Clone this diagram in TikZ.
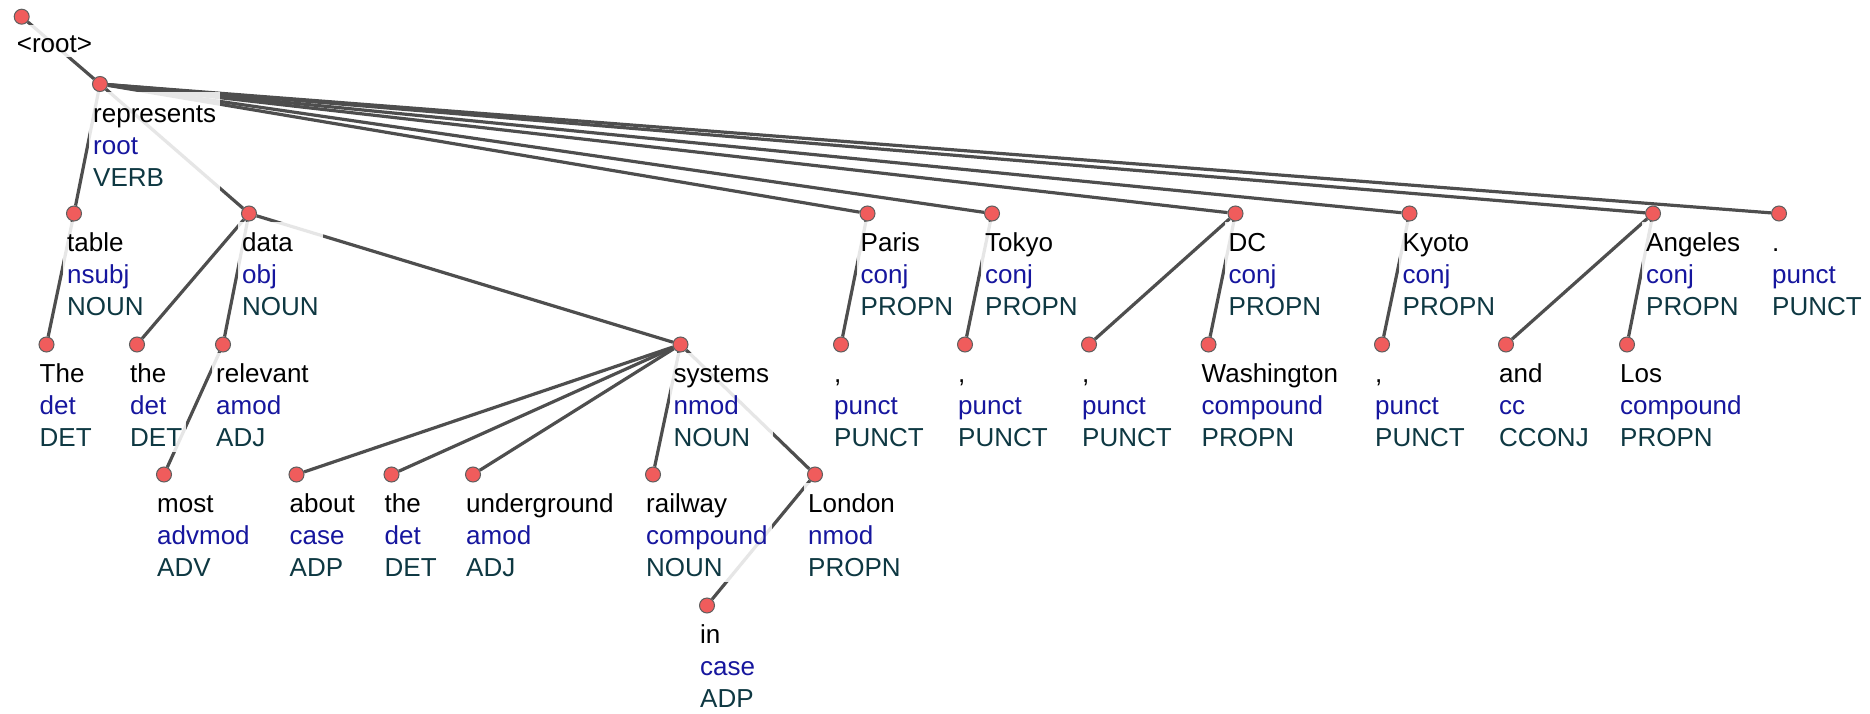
\documentclass[tikz,border=0pt]{standalone}
\usepackage{fontspec}
\setmainfont{Liberation Sans}
\definecolor{relblue}{RGB}{22,22,158}
\definecolor{posteal}{RGB}{14,56,66}
\definecolor{edgegray}{RGB}{78,78,78}
\definecolor{dotred}{RGB}{240,92,92}
\definecolor{dotrim}{RGB}{95,95,95}
\pgfdeclarelayer{edges}
\pgfsetlayers{edges,main}
\tikzset{
  lbl/.style={anchor=north west, align=left, inner xsep=4pt, inner ysep=0pt,
    fill=white, fill opacity=0.86, text opacity=1,
    font=\fontsize{26}{32}\selectfont},
  tokdot/.style={circle, minimum size=15pt, inner sep=0pt, fill=dotred,
    draw=dotrim, line width=1pt},
  dep/.style={draw=edgegray, line width=3.2pt}
}
% token: name, x, y, word, relation, part of speech
\newcommand\tok[6]{%
  \node[lbl] (#1-lbl) at (#2-11,#3+8)
    {\rule{0pt}{30pt}#4\\\textcolor{relblue}{#5}\\\textcolor{posteal}{#6}\rule[-5pt]{0pt}{5pt}};
  \node[tokdot] (#1) at (#2,#3) {};
}
\begin{document}
\begin{tikzpicture}[x=1pt,y=-1pt]
\useasboundingbox (0,0) rectangle (1870,714);

% artificial root
\node[lbl] (root-lbl) at (21.7-9,16.7+8) {\rule{0pt}{28pt}\textless root\textgreater\rule[-4pt]{0pt}{4pt}};
\node[tokdot] (root) at (21.7,16.7) {};

% tokens
\tok{represents}{100}{84}{represents}{root}{VERB}
\tok{table}{74}{213.5}{table}{nsubj}{NOUN}
\tok{data}{249}{213.5}{data}{obj}{NOUN}
\tok{paris}{867.5}{213.5}{Paris}{conj}{PROPN}
\tok{tokyo}{992}{213.5}{Tokyo}{conj}{PROPN}
\tok{dc}{1235.5}{213.5}{DC}{conj}{PROPN}
\tok{kyoto}{1409.5}{213.5}{Kyoto}{conj}{PROPN}
\tok{angeles}{1653}{213.5}{Angeles}{conj}{PROPN}
\tok{stop}{1779}{213.5}{.}{punct}{PUNCT}
\tok{the1}{46.5}{344.5}{The}{det}{DET}
\tok{the2}{137}{344.5}{the}{det}{DET}
\tok{relevant}{223}{344.5}{relevant}{amod}{ADJ}
\tok{systems}{680.5}{344.5}{systems}{nmod}{NOUN}
\tok{commaA}{841}{344.5}{,}{punct}{PUNCT}
\tok{commaB}{965}{344.5}{,}{punct}{PUNCT}
\tok{commaC}{1089}{344.5}{,}{punct}{PUNCT}
\tok{washington}{1208.5}{344.5}{Washington}{compound}{PROPN}
\tok{commaD}{1382}{344.5}{,}{punct}{PUNCT}
\tok{and}{1506}{344.5}{and}{cc}{CCONJ}
\tok{los}{1627}{344.5}{Los}{compound}{PROPN}
\tok{most}{164}{474.5}{most}{advmod}{ADV}
\tok{about}{296.5}{474.5}{about}{case}{ADP}
\tok{the3}{391.5}{474.5}{the}{det}{DET}
\tok{underground}{473}{474.5}{underground}{amod}{ADJ}
\tok{railway}{653}{474.5}{railway}{compound}{NOUN}
\tok{london}{815}{474.5}{London}{nmod}{PROPN}
\tok{in}{707}{605.5}{in}{case}{ADP}

% dependency arcs, under the labels
\begin{pgfonlayer}{edges}
\draw[dep] (root) -- (represents);
\foreach \d in {table,data,paris,tokyo,dc,kyoto,angeles,stop}
  \draw[dep] (represents) -- (\d);
\draw[dep] (table) -- (the1);
\foreach \d in {the2,relevant,systems}
  \draw[dep] (data) -- (\d);
\draw[dep] (relevant) -- (most);
\foreach \d in {about,the3,underground,railway,london}
  \draw[dep] (systems) -- (\d);
\draw[dep] (london) -- (in);
\draw[dep] (paris) -- (commaA);
\draw[dep] (tokyo) -- (commaB);
\draw[dep] (dc) -- (commaC);
\draw[dep] (dc) -- (washington);
\draw[dep] (kyoto) -- (commaD);
\draw[dep] (angeles) -- (and);
\draw[dep] (angeles) -- (los);
\end{pgfonlayer}
\end{tikzpicture}
\end{document}
